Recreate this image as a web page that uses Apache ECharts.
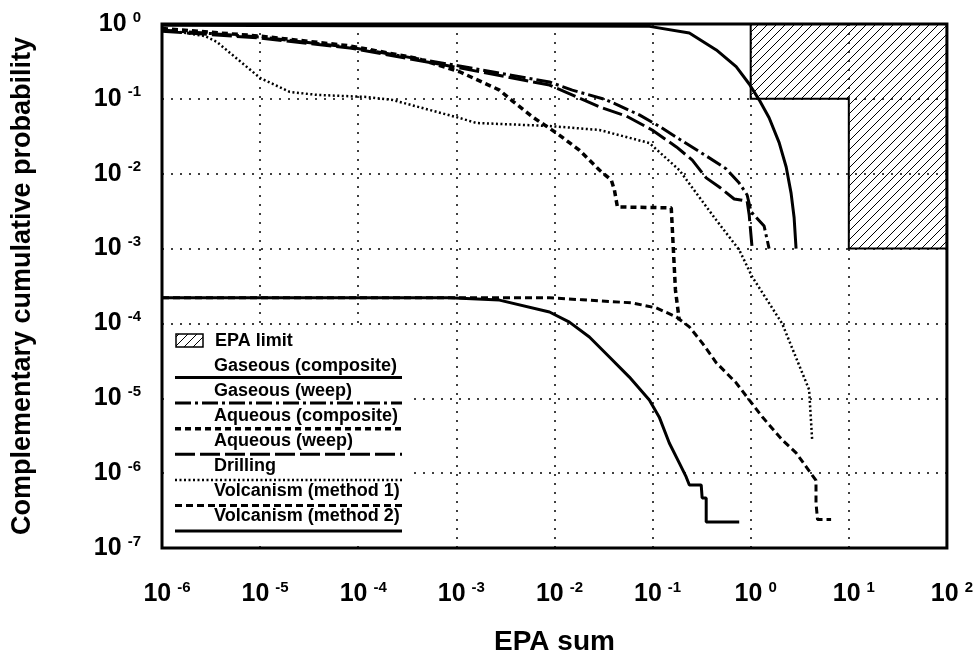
<!DOCTYPE html>
<html>
<head>
<meta charset="utf-8">
<script src="https://cdn.jsdelivr.net/npm/echarts@6/dist/echarts.min.js"></script>
<style>
  html, body { margin: 0; padding: 0; background: #fff; }
  #chart { width: 976px; height: 664px; }
</style>
</head>
<body>
<div id="chart"></div>
<script>
// ---- data ----
const xExp = [-6, 2];   // EPA sum, decades
const yExp = [-7, 0];   // probability, decades

const gasCompX = [1e-6, 1e-4, 1e-2, 0.093, 0.237, 0.446, 0.711, 0.966, 1.22, 1.54, 1.95, 2.30, 2.58, 2.77, 2.90];
const gasCompY = [0.96, 0.95, 0.94, 0.93, 0.76, 0.45, 0.27, 0.158, 0.097, 0.056, 0.026, 0.0123, 0.0055, 0.0026, 0.001];

const gasWeepX = [1e-6, 1e-5, 8.2e-5, 8.5e-4, 8.9e-3, 0.0152, 0.0338, 0.0733, 0.117, 0.187, 0.352, 0.564, 0.764, 0.92, 1.01, 1.37, 1.54];
const gasWeepY = [0.83, 0.67, 0.49, 0.29, 0.168, 0.131, 0.097, 0.061, 0.043, 0.029, 0.0173, 0.0116, 0.0075, 0.0052, 0.0031, 0.002, 0.001];

const aqCompX = [1e-6, 1e-5, 8.2e-5, 3.9e-4, 1.08e-3, 2.75e-3, 3.74e-3, 5.97e-3, 0.0105, 0.0179, 0.0287, 0.038, 0.0408, 0.0438, 0.155, 0.163, 0.171, 0.187];
const aqCompY = [0.87, 0.69, 0.51, 0.35, 0.23, 0.131, 0.0935, 0.0573, 0.035, 0.0207, 0.0112, 0.0082, 0.0061, 0.0036, 0.0035, 9.6e-4, 2.8e-4, 1.1e-4];

const aqWeepX = [1e-6, 1e-5, 8.2e-5, 8.5e-4, 8.9e-3, 0.0308, 0.054, 0.099, 0.175, 0.254, 0.352, 0.478, 0.679, 0.92, 0.966, 1.035];
const aqWeepY = [0.80, 0.65, 0.478, 0.275, 0.153, 0.0755, 0.059, 0.0384, 0.0228, 0.0152, 0.0088, 0.00665, 0.0046, 0.0043, 0.0028, 0.001];

const drillX = [1e-6, 2.74e-6, 3.63e-6, 1e-5, 2.0e-5, 3.8e-5, 1.22e-4, 2.24e-4, 1.08e-3, 1.6e-3, 8.9e-3, 0.0287, 0.0927, 0.187, 0.446, 0.764, 1.035, 2.09, 3.94, 4.23];
const drillY = [0.85, 0.69, 0.575, 0.19, 0.124, 0.113, 0.106, 0.0966, 0.0555, 0.0476, 0.0434, 0.0384, 0.0257, 0.0112, 0.0024, 9.6e-4, 4.2e-4, 1.0e-4, 1.3e-5, 2.8e-6];

const volc1X = [1e-6, 8.9e-3, 0.0193, 0.0622, 0.109, 0.175, 0.237, 0.32, 0.446, 0.711, 0.966, 1.31, 2.09, 2.9, 4.23, 4.63, 4.63, 4.8, 6.6];
const volc1Y = [2.2e-4, 2.2e-4, 2.07e-4, 1.88e-4, 1.61e-4, 1.22e-4, 9.0e-5, 5.5e-5, 2.98e-5, 1.61e-5, 9.5e-6, 5.66e-6, 2.79e-6, 1.87e-6, 9.4e-7, 8e-7, 4e-7, 2.4e-7, 2.4e-7];

const volc2X = [1e-6, 8.5e-4, 2.75e-3, 8.9e-3, 0.0142, 0.0227, 0.0363, 0.058, 0.0927, 0.117, 0.148, 0.187, 0.22, 0.237, 0.313, 0.32, 0.352, 0.352, 0.764];
const volc2Y = [2.2e-4, 2.2e-4, 2.05e-4, 1.42e-4, 1.04e-4, 6.6e-5, 3.56e-5, 1.92e-5, 9.5e-6, 5.6e-6, 2.53e-6, 1.37e-6, 8.9e-7, 6.95e-7, 6.95e-7, 4.66e-7, 4.66e-7, 2.23e-7, 2.23e-7];

// EPA limit steps: x corners and y levels
const epaX = [1, 10, 100];
const epaY = [1, 0.1, 0.001];

// ---- helpers ----
function zip(xs, ys) {
    return xs.map((x, i) => [x, ys[i]]);
}

// hatch pattern for the EPA limit
function makeHatch() {
    const c = document.createElement('canvas');
    c.width = 9; c.height = 9;
    const g = c.getContext('2d');
    g.strokeStyle = '#000';
    g.lineWidth = 1;
    g.beginPath();
    g.moveTo(0, 9); g.lineTo(9, 0);
    g.moveTo(-1, 1); g.lineTo(1, -1);
    g.moveTo(8, 10); g.lineTo(10, 8);
    g.stroke();
    return { image: c, repeat: 'repeat' };
}
const hatch = makeHatch();

const FONT = '"Liberation Sans", Arial, Helvetica, sans-serif';

function expLabel(v) {
    const e = Math.round(Math.log10(v));
    return '{b|10}{e|' + e + '}';
}
const labelRich = {
    b: { fontFamily: FONT, fontWeight: 'bold', fontSize: 25, lineHeight: 28, color: '#000' },
    e: { fontFamily: FONT, fontWeight: 'bold', fontSize: 15, verticalAlign: 'top', padding: [0, 0, 0, 6], color: '#000' }
};

// series styles (also used for the legend)
const curves = [
    { name: 'Gaseous (composite)', data: zip(gasCompX, gasCompY), width: 3, dash: 'solid', lDash: null },
    { name: 'Gaseous (weep)', data: zip(gasWeepX, gasWeepY), width: 3, dash: [16, 4, 3, 4], lDash: [16, 4, 3, 4] },
    { name: 'Aqueous (composite)', data: zip(aqCompX, aqCompY), width: 3.5, dash: [6, 4], lDash: [6, 4] },
    { name: 'Aqueous (weep)', data: zip(aqWeepX, aqWeepY), width: 3, dash: [20, 5], lDash: [20, 5] },
    { name: 'Drilling', data: zip(drillX, drillY), width: 2.5, dash: [2, 2.5], lDash: [2, 2.5] },
    { name: 'Volcanism (method 1)', data: zip(volc1X, volc1Y), width: 3, dash: [7, 4], lDash: [7, 4] },
    { name: 'Volcanism (method 2)', data: zip(volc2X, volc2Y), width: 3, dash: 'solid', lDash: null }
];

const chart = echarts.init(document.getElementById('chart'));

const series = [{
    name: 'EPA limit',
    type: 'custom',
    data: [[epaX[0], epaY[0]]],
    z: 1,
    renderItem: function (params, api) {
        const pts = [
            [epaX[0], epaY[0]], [epaX[2], epaY[0]], [epaX[2], epaY[2]],
            [epaX[1], epaY[2]], [epaX[1], epaY[1]], [epaX[0], epaY[1]]
        ].map(p => api.coord(p));
        return {
            type: 'polygon',
            shape: { points: pts },
            style: { fill: hatch, stroke: '#000', lineWidth: 2 }
        };
    }
}];

curves.forEach(c => {
    series.push({
        name: c.name,
        type: 'line',
        data: c.data,
        symbol: 'none',
        z: 3,
        lineStyle: { color: '#000', width: c.width, type: c.dash }
    });
});

// legend drawn inside the plot box, text above each line sample
const legendFont = 'bold 18px ' + FONT;
const graphic = [
    { type: 'rect', shape: { x: 165, y: 329, width: 242, height: 216 }, style: { fill: '#fff' }, z: 50 },
    { type: 'rect', shape: { x: 176, y: 334, width: 27, height: 13 }, style: { fill: hatch, stroke: '#000', lineWidth: 1.5 }, z: 51 },
    { type: 'text', style: { text: 'EPA limit', x: 215, y: 341, font: legendFont, fill: '#000', verticalAlign: 'middle' }, z: 51 }
];
curves.forEach((c, i) => {
    const ty = 366 + 25 * i;
    const ly = 377.5 + 25.6 * i;
    graphic.push({
        type: 'text',
        style: { text: c.name, x: 214, y: ty, font: legendFont, fill: '#000', verticalAlign: 'middle' },
        z: 51
    });
    graphic.push({
        type: 'line',
        shape: { x1: 175, y1: ly, x2: 402, y2: ly },
        style: { stroke: '#000', lineWidth: c.width, lineDash: c.lDash },
        z: 51
    });
});

chart.setOption({
    animation: false,
    backgroundColor: '#fff',
    grid: {
        left: 162, right: 28, top: 24, bottom: 116,
        show: true, borderColor: '#000', borderWidth: 3, backgroundColor: 'transparent'
    },
    xAxis: {
        type: 'log',
        logBase: 10,
        min: Math.pow(10, xExp[0]),
        max: Math.pow(10, xExp[1]),
        name: 'EPA sum',
        nameLocation: 'middle',
        nameGap: 80,
        nameTextStyle: { fontFamily: FONT, fontWeight: 'bold', fontSize: 28, color: '#000' },
        axisLine: { show: false },
        axisTick: { show: false },
        minorTick: { show: false },
        axisLabel: { formatter: expLabel, rich: labelRich, margin: 32, padding: [0, 0, 0, 10] },
        splitLine: { show: true, lineStyle: { color: '#000', width: 1.5, type: [2, 7] } }
    },
    yAxis: {
        type: 'log',
        logBase: 10,
        min: Math.pow(10, yExp[0]),
        max: Math.pow(10, yExp[1]),
        name: 'Complementary cumulative probability',
        nameLocation: 'middle',
        nameGap: 126,
        nameTextStyle: { fontFamily: FONT, fontWeight: 'bold', fontSize: 27, color: '#000' },
        axisLine: { show: false },
        axisTick: { show: false },
        axisLabel: { formatter: expLabel, rich: labelRich, margin: 21 },
        splitLine: { show: true, lineStyle: { color: '#000', width: 1.5, type: [2, 7] } }
    },
    series: series,
    graphic: graphic
});
</script>
</body>
</html>
